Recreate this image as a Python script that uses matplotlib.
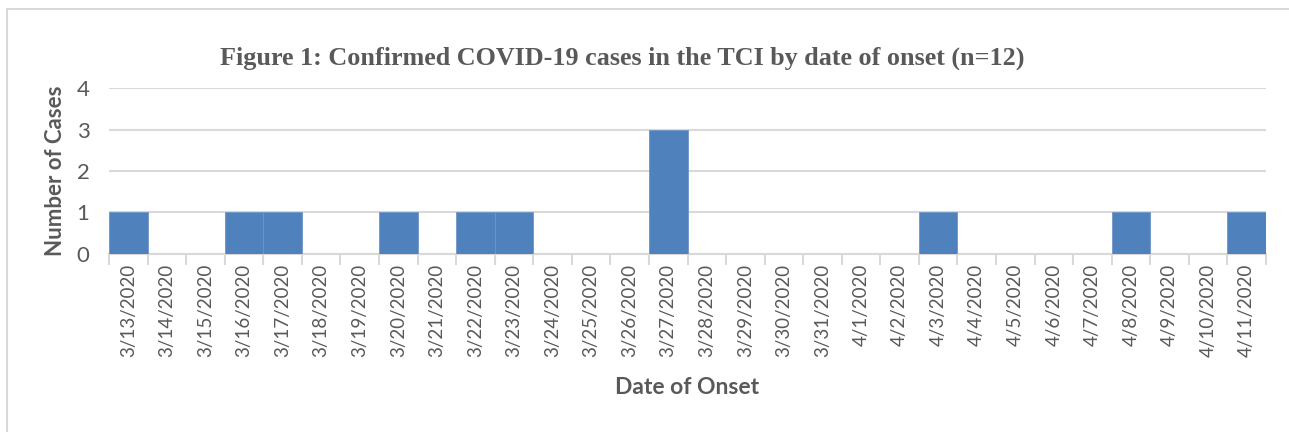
import matplotlib
matplotlib.use('Agg')
import matplotlib.pyplot as plt
from matplotlib.patches import Rectangle

dates = ['3/13/2020', '3/14/2020', '3/15/2020', '3/16/2020', '3/17/2020', '3/18/2020',
         '3/19/2020', '3/20/2020', '3/21/2020', '3/22/2020', '3/23/2020', '3/24/2020',
         '3/25/2020', '3/26/2020', '3/27/2020', '3/28/2020', '3/29/2020', '3/30/2020',
         '3/31/2020', '4/1/2020', '4/2/2020', '4/3/2020', '4/4/2020', '4/5/2020',
         '4/6/2020', '4/7/2020', '4/8/2020', '4/9/2020', '4/10/2020', '4/11/2020']
cases = [1, 0, 0, 1, 1, 0, 0, 1, 0, 1, 1, 0, 0, 0, 3, 0, 0, 0, 0, 0, 0, 1, 0, 0, 0, 0, 1, 0, 0, 1]

text_color = '#595959'
grid_color = '#d9d9d9'

fig = plt.figure(figsize=(12.89, 4.32), dpi=100)
fig.patch.set_facecolor('white')
# light frame round the chart
fig.patches.append(Rectangle((7 / 1289, -0.1), 1.2, 1 - 9 / 432 + 0.1, transform=fig.transFigure,
                             fill=False, edgecolor='#d9d9d9', linewidth=1.5))

ax = fig.add_axes([109 / 1289, 1 - 254 / 432, (1266 - 109) / 1289, (254 - 88) / 432])
x = range(len(dates))
ax.bar(x, cases, width=1.0, color='#4f81bd', edgecolor='#6f95c8', linewidth=0.6, zorder=3)

ax.set_xlim(-0.5, len(dates) - 0.5)
ax.set_ylim(0, 4)
ax.set_yticks([0, 1, 2, 3, 4])
ax.yaxis.grid(True, color=grid_color, linewidth=1.5, zorder=0)
ax.set_xticks(list(x))
ax.set_xticklabels(dates, rotation=90, family='Lato', fontsize=13.5, color=text_color)
ax.set_xticks([i - 0.5 for i in range(len(dates) + 1)], minor=True)
ax.tick_params(axis='x', which='major', length=0, pad=7)
ax.tick_params(axis='x', which='minor', length=8, width=1.5, color=grid_color)
ax.tick_params(axis='y', length=0, pad=14, labelsize=16, labelcolor=text_color)
for lab in ax.get_yticklabels():
    lab.set_family('Lato')

for side in ['top', 'right', 'left']:
    ax.spines[side].set_visible(False)
ax.spines['bottom'].set_color(grid_color)
ax.spines['bottom'].set_linewidth(1.5)

ax.set_ylabel('Number of Cases', family='Lato', fontsize=16, fontweight='bold', color=text_color, labelpad=8)
ax.set_xlabel('Date of Onset', family='Lato', fontsize=16.5, fontweight='bold', color=text_color, labelpad=14)

fig.text(622 / 1289, 1 - 58 / 432, 'Figure 1: Confirmed COVID-19 cases in the TCI by date of onset (n=12)',
         ha='center', va='center', family='Liberation Serif', fontsize=18.8, fontweight='bold', color=text_color)

fig.savefig('out.png', dpi=100)
